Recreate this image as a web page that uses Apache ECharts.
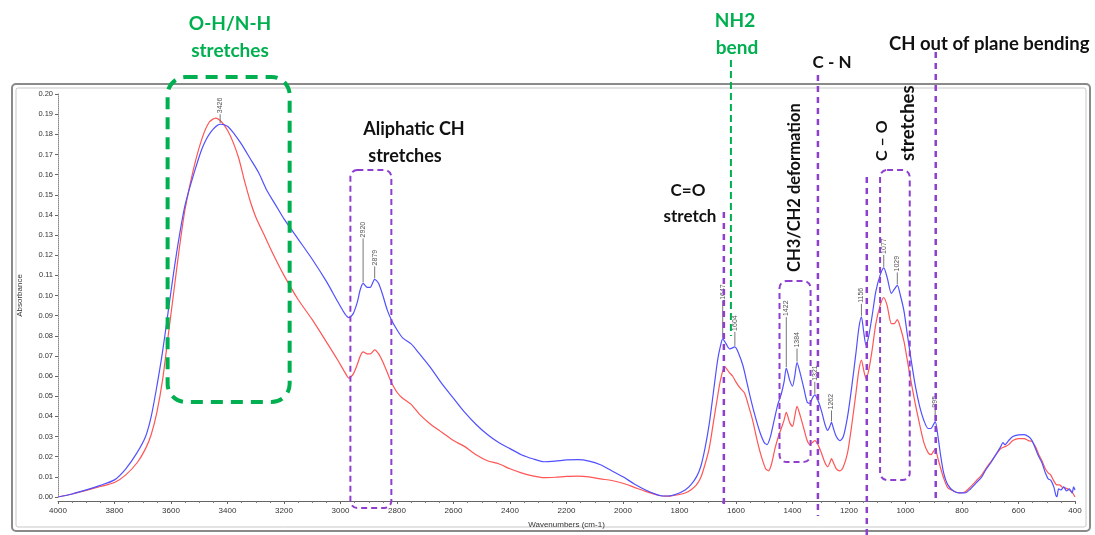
<!DOCTYPE html>
<html><head><meta charset="utf-8">
<script src="https://cdn.jsdelivr.net/npm/echarts@6/dist/echarts.min.js"></script>
<style>html,body{margin:0;padding:0;background:#fff}#c{width:1095px;height:535px}</style>
</head><body><div id="c"></div>
<script>
// ---- data ----
const blueSpectrum = [[4000,0.000],[3950,0.0015],[3900,0.0035],[3850,0.0058],[3800,0.0085],[3760,0.014],[3720,0.022],[3690,0.030],[3670,0.040],[3650,0.055],[3630,0.072],[3610,0.092],[3590,0.112],[3570,0.130],[3550,0.145],[3520,0.160],[3490,0.173],[3460,0.181],[3426,0.185],[3400,0.184],[3375,0.180],[3350,0.175],[3320,0.168],[3290,0.161],[3260,0.152],[3230,0.145],[3200,0.138],[3150,0.128],[3100,0.118],[3050,0.107],[3010,0.097],[2985,0.091],[2970,0.089],[2955,0.091],[2940,0.097],[2930,0.103],[2920,0.106],[2905,0.104],[2895,0.104],[2879,0.108],[2865,0.106],[2850,0.100],[2835,0.093],[2820,0.088],[2800,0.083],[2780,0.079],[2750,0.076],[2720,0.071],[2680,0.064],[2640,0.056],[2600,0.049],[2560,0.042],[2520,0.036],[2480,0.031],[2440,0.027],[2400,0.024],[2360,0.021],[2320,0.019],[2280,0.0175],[2240,0.0178],[2200,0.0184],[2160,0.0185],[2120,0.0178],[2080,0.016],[2040,0.013],[2000,0.010],[1960,0.0065],[1920,0.0035],[1880,0.0012],[1860,0.0005],[1840,0.0005],[1810,0.0015],[1780,0.0035],[1760,0.006],[1740,0.010],[1725,0.015],[1710,0.024],[1695,0.036],[1680,0.052],[1665,0.068],[1655,0.075],[1647,0.0785],[1635,0.076],[1622,0.0735],[1604,0.0745],[1590,0.071],[1575,0.065],[1560,0.056],[1545,0.047],[1530,0.039],[1515,0.032],[1500,0.027],[1490,0.026],[1478,0.030],[1465,0.038],[1452,0.046],[1440,0.051],[1430,0.057],[1422,0.064],[1410,0.058],[1400,0.055],[1392,0.060],[1384,0.0667],[1372,0.061],[1360,0.054],[1348,0.047],[1338,0.0465],[1330,0.049],[1321,0.0507],[1310,0.048],[1298,0.043],[1285,0.036],[1275,0.033],[1268,0.035],[1262,0.037],[1255,0.034],[1245,0.030],[1232,0.028],[1220,0.030],[1205,0.040],[1190,0.055],[1175,0.072],[1165,0.084],[1156,0.0894],[1148,0.082],[1140,0.0755],[1130,0.080],[1118,0.090],[1105,0.102],[1090,0.110],[1077,0.1137],[1065,0.109],[1050,0.101],[1040,0.103],[1029,0.105],[1018,0.100],[1005,0.092],[995,0.082],[980,0.068],[965,0.055],[950,0.045],[935,0.038],[920,0.034],[910,0.034],[895,0.0374],[885,0.030],[875,0.020],[865,0.012],[850,0.006],[830,0.003],[810,0.002],[790,0.002],[770,0.004],[750,0.007],[730,0.010],[716,0.0134],[698,0.017],[680,0.021],[663,0.025],[655,0.027],[648,0.026],[635,0.028],[620,0.030],[600,0.0308],[580,0.031],[565,0.030],[552,0.028],[540,0.024],[528,0.020],[517,0.017],[505,0.012],[495,0.009],[486,0.0084],[475,0.005],[468,0.001],[464,0.000],[458,0.004],[450,0.0035],[440,0.005],[430,0.003],[420,0.004],[410,0.002],[405,0.005],[400,0.0035]];
const redSpectrum = [[4000,0.000],[3950,0.0015],[3900,0.0033],[3850,0.0052],[3800,0.0072],[3760,0.011],[3720,0.017],[3690,0.024],[3670,0.031],[3650,0.042],[3630,0.058],[3610,0.080],[3590,0.102],[3570,0.124],[3550,0.143],[3520,0.163],[3490,0.178],[3465,0.186],[3442,0.188],[3420,0.186],[3400,0.182],[3380,0.176],[3360,0.168],[3340,0.157],[3320,0.147],[3300,0.139],[3270,0.130],[3240,0.121],[3200,0.110],[3150,0.098],[3100,0.088],[3050,0.077],[3010,0.068],[2985,0.062],[2970,0.059],[2955,0.061],[2940,0.066],[2930,0.070],[2920,0.072],[2905,0.071],[2895,0.071],[2879,0.073],[2865,0.071],[2850,0.067],[2835,0.062],[2820,0.057],[2800,0.052],[2780,0.049],[2750,0.046],[2720,0.041],[2680,0.036],[2640,0.032],[2600,0.028],[2560,0.025],[2520,0.021],[2480,0.018],[2440,0.0165],[2400,0.014],[2360,0.012],[2320,0.0105],[2280,0.0096],[2240,0.0098],[2200,0.0102],[2160,0.0104],[2120,0.0100],[2080,0.009],[2040,0.0082],[2000,0.0068],[1960,0.0048],[1920,0.0028],[1880,0.001],[1860,0.0005],[1840,0.0004],[1810,0.001],[1780,0.002],[1760,0.0035],[1740,0.006],[1725,0.0095],[1710,0.016],[1695,0.024],[1680,0.037],[1665,0.050],[1655,0.058],[1640,0.0647],[1625,0.062],[1611,0.0598],[1600,0.057],[1585,0.054],[1570,0.0516],[1555,0.045],[1541,0.038],[1525,0.028],[1510,0.020],[1495,0.014],[1485,0.013],[1475,0.016],[1462,0.024],[1450,0.030],[1440,0.034],[1430,0.038],[1422,0.042],[1410,0.037],[1400,0.035],[1392,0.040],[1384,0.045],[1372,0.040],[1360,0.034],[1348,0.028],[1338,0.026],[1330,0.027],[1321,0.028],[1310,0.026],[1298,0.022],[1285,0.017],[1275,0.015],[1268,0.017],[1262,0.019],[1255,0.017],[1245,0.014],[1232,0.013],[1220,0.015],[1205,0.022],[1190,0.036],[1175,0.052],[1165,0.063],[1156,0.068],[1148,0.063],[1140,0.059],[1130,0.063],[1118,0.073],[1105,0.086],[1090,0.095],[1077,0.099],[1065,0.095],[1050,0.086],[1040,0.086],[1029,0.088],[1018,0.084],[1005,0.077],[995,0.069],[980,0.057],[965,0.046],[950,0.036],[935,0.027],[920,0.022],[910,0.021],[895,0.0238],[885,0.019],[875,0.014],[865,0.0094],[850,0.0045],[830,0.003],[810,0.002],[790,0.0025],[770,0.005],[750,0.008],[730,0.011],[716,0.014],[698,0.0175],[680,0.021],[663,0.024],[648,0.025],[635,0.026],[620,0.028],[600,0.029],[580,0.029],[565,0.028],[552,0.0275],[540,0.025],[528,0.021],[517,0.018],[505,0.014],[495,0.012],[486,0.011],[475,0.008],[464,0.006],[455,0.006],[446,0.005],[435,0.0045],[425,0.004],[415,0.003],[408,0.002],[400,0.000]];
const peakLabels = [3426,2920,2879,1647,1604,1422,1384,1321,1262,1156,1077,1029,895];
const yAxisName = 'Absorbance';
const xAxisName = 'Wavenumbers (cm-1)';

// ---- style (not data) ----
const leaderLen = {3426:9,2920:44,2879:12,1647:37,1604:14,1422:50,1384:13,1321:12,1262:11,1156:12,1077:12,1029:12,895:12};
const GREEN = '#00b050', PURPLE = '#8e3fd0';

const chart = echarts.init(document.getElementById('c'), null, {renderer:'canvas'});
chart.setOption({
  animation:false,
  backgroundColor:'#fff',
  grid:{left:58,right:20,top:94,bottom:38},
  xAxis:{type:'value',min:400,max:4000,interval:200,inverse:true,offset:4,
    axisLine:{show:true,onZero:false,lineStyle:{color:'#666',width:1}},
    axisTick:{show:true,length:3,lineStyle:{color:'#666'}},
    minorTick:{show:true,splitNumber:4,length:2,lineStyle:{color:'#777'}},
    axisLabel:{fontSize:8,color:'#333',margin:6,fontFamily:'Liberation Sans',formatter:v=>String(Math.round(v))},
    splitLine:{show:false},
    name:xAxisName,nameLocation:'middle',nameGap:20,
    nameTextStyle:{fontSize:8,color:'#333',fontFamily:'Liberation Sans'}},
  yAxis:{type:'value',min:0,max:0.2,interval:0.01,
    axisLine:{show:true,lineStyle:{color:'#888',type:'dotted',width:1}},
    axisTick:{show:true,length:3,lineStyle:{color:'#666'}},
    axisLabel:{fontSize:7.5,color:'#333',margin:5,fontFamily:'Liberation Sans',formatter:v=>v.toFixed(2)},
    splitLine:{show:false},
    name:yAxisName,nameLocation:'middle',nameGap:34,
    nameTextStyle:{fontSize:8,color:'#333',fontFamily:'Liberation Sans'}},
  series:[
    {type:'line',data:redSpectrum,showSymbol:false,smooth:0.25,lineStyle:{color:'#ff5555',width:1.2},z:2},
    {type:'line',data:blueSpectrum,showSymbol:false,smooth:0.25,lineStyle:{color:'#5050ff',width:1.2},z:3}
  ]
});

function interp(spec, wn){
  for(let i=0;i<spec.length-1;i++){
    const a=spec[i], b=spec[i+1];
    if((wn<=a[0]&&wn>=b[0])){ const t=(a[0]-wn)/(a[0]-b[0]); return a[1]+t*(b[1]-a[1]); }
  }
  return 0;
}
const X = wn => chart.convertToPixel({gridIndex:0},[wn,0])[0];
const Y = a => chart.convertToPixel({gridIndex:0},[1000,a])[1];

const g = [];
// window frame
g.push({type:'rect',shape:{x:12,y:84,width:1078,height:447,r:4},style:{fill:'none',stroke:'#8a8a8a',lineWidth:2},z:0});
g.push({type:'rect',shape:{x:16,y:88,width:1070,height:439,r:2},style:{fill:'none',stroke:'#c8c8c8',lineWidth:1},z:0});

// peak labels
peakLabels.forEach(wn=>{
  const x = X(wn), y = Y(interp(blueSpectrum,wn)) - 1;
  const top = y - leaderLen[wn];
  g.push({type:'line',shape:{x1:x,y1:y,x2:x,y2:top},style:{stroke:'#777',lineWidth:1},z:20});
  g.push({type:'text',x:x,y:top-1,rotation:Math.PI/2,
    style:{text:String(wn),fill:'#555',font:'7px "Liberation Sans"',align:'left',verticalAlign:'middle'},z:20});
});

function vline(wn,y1,y2,color,w,dash){
  const x=X(wn);
  g.push({type:'line',shape:{x1:x,y1:y1,x2:x,y2:y2},style:{stroke:color,lineWidth:w,lineDash:dash},z:30});
}
function box(wn1,wn2,y1,y2,color,w,dash,r){
  const x1=X(wn1), x2=X(wn2);
  g.push({type:'rect',shape:{x:x1,y:y1,width:x2-x1,height:y2-y1,r:r},style:{fill:'none',stroke:color,lineWidth:w,lineDash:dash},z:30});
}
function label(text,x,y,color,size,opts){
  opts=opts||{};
  g.push({type:'text',x:x,y:y,rotation:opts.rot||0,
    style:{text:text,fill:color,font:'bold '+size+'px Lato',align:opts.align||'center',verticalAlign:'middle'},z:40});
}

// boxes
box(3612,3180,77,402,GREEN,4,[12,8],18);
box(2965,2820,170,508,PURPLE,2,[6,4],7);
box(1446,1336,281,462,PURPLE,2,[6,4],7);
box(1090,985,170,480,PURPLE,2,[6,4],7);
// vertical lines
vline(1643,212,508,PURPLE,2.5,[6,5]);
vline(1618,60,336,GREEN,2,[7,4]);
vline(1310,75,516,PURPLE,2.5,[6,5]);
vline(1137,177,535,PURPLE,2.5,[6,5]);
vline(893,52,500,PURPLE,2.5,[6,5]);

// texts
label('O-H/N-H',230,24,GREEN,19);
label('stretches',230,51,GREEN,19);
label('Aliphatic CH',414,129,'#111',18);
label('stretches',405,156,'#111',18);
label('C=O',688,191,'#111',17);
label('stretch',690,217,'#111',17);
label('NH2',735,21,GREEN,19);
label('bend',737,48,GREEN,19);
label('C - N',832,63,'#111',17);
label('CH out of plane bending',889,44,'#111',18.5,{align:'left'});
label('CH3/CH2 deformation',795,272,'#111',16.5,{rot:Math.PI/2,align:'left'});
label('C \u2013 O',882,161,'#111',16,{rot:Math.PI/2,align:'left'});
label('stretches',908,161,'#111',18.5,{rot:Math.PI/2,align:'left'});

chart.setOption({graphic:g});
</script>
</body></html>
